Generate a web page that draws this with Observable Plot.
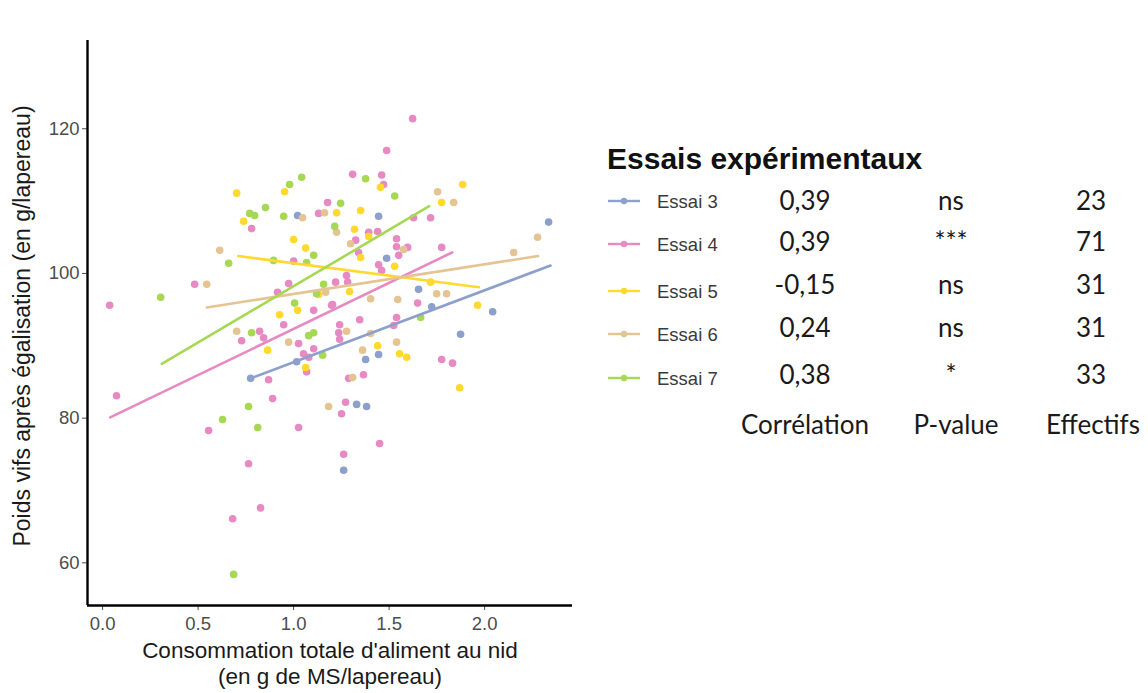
<!DOCTYPE html>
<html><head><meta charset="utf-8">
<script src="https://cdn.jsdelivr.net/npm/d3@7"></script>
<script src="https://cdn.jsdelivr.net/npm/@observablehq/plot@0.6"></script>
<style>
body{margin:0;background:#fff;width:1148px;height:693px;overflow:hidden;position:relative;font-family:"Liberation Sans",Arial,sans-serif}
#chart{position:absolute;left:0;top:0}
#legend{position:absolute;left:0;top:0}
</style></head><body>
<div id="chart"></div><div id="legend"></div>
<script>
// ---- data ----
const essais = ["Essai 3","Essai 4","Essai 5","Essai 6","Essai 7"];
const colors = ["#8DA0CB","#E78AC3","#FFD92F","#E5C494","#A6D854"];
const correlations = ["0,39","0,39","-0,15","0,24","0,38"];
const pValues = ["ns","***","ns","ns","*"];
const effectifs = ["23","71","31","31","33"];
const columnLabels = ["Corrélation","P-value","Effectifs"];
const legendTitle = "Essais expérimentaux";
const xTicks = [0,0.5,1,1.5,2];
const yTicks = [60,80,100,120];
const xTitle1 = "Consommation totale d'aliment au nid";
const xTitle2 = "(en g de MS/lapereau)";
const yTitle = "Poids vifs après égalisation (en g/lapereau)";

const essai3X = [2.335,1.445,1.021,1.487,1.654,1.723,1.874,1.445,1.377,1.330,1.382,1.262,2.042,0.775,1.016];
const essai3Y = [107.1,107.9,108.0,102.1,97.8,95.4,91.6,88.8,88.1,81.9,81.6,72.8,94.7,85.5,87.8];

const essai4X = [0.037,0.073,0.482,0.728,0.822,0.843,0.869,0.890,0.555,0.764,0.681,0.827,1.026,0.948,1.026,1.052,1.079,1.105,1.068,1.105,1.199,0.916,0.974,1.0,0.780,1.131,1.178,1.220,1.623,1.487,1.309,1.461,1.471,1.628,1.717,1.325,1.393,1.440,1.539,1.539,1.597,1.775,1.550,1.340,1.445,1.461,1.277,1.283,1.204,1.241,1.236,1.241,1.346,1.524,1.539,1.649,1.775,1.832,1.366,1.288,1.272,1.251,1.450,1.262];
const essai4Y = [95.6,83.1,98.5,90.7,92.0,91.1,85.3,82.7,78.3,73.7,66.1,67.6,78.7,92.9,90.3,88.9,88.4,89.6,86.4,94.9,95.6,97.4,98.6,101.7,106.2,108.3,109.8,98.8,121.4,117.0,113.7,113.6,112.3,107.7,107.7,104.6,105.7,105.8,104.8,103.7,103.6,103.6,102.5,102.9,101.2,100.4,99.7,98.8,95.7,92.9,91.8,90.9,93.6,92.8,93.9,95.9,88.1,87.6,86.0,85.5,82.2,80.6,76.5,75.0];

const essai5X = [0.702,0.953,0.738,1.0,1.063,1.225,1.131,1.885,1.455,1.775,1.351,1.319,1.393,1.351,1.529,1.717,1.293,0.927,1.021,0.864,1.063,1.963,1.440,1.555,1.592,1.869];
const essai5Y = [111.1,111.3,107.2,104.7,103.5,108.4,97.1,112.3,111.9,109.8,108.7,106.1,105.1,102.2,101.0,98.8,97.5,94.3,94.9,89.4,87.0,95.6,90.0,88.9,88.4,84.2];

const essai6X = [0.613,0.545,1.047,1.162,1.754,1.838,2.277,2.152,1.225,1.298,1.576,1.749,1.801,1.403,1.545,1.168,1.277,1.403,1.539,1.361,1.309,1.183,0.702,0.974];
const essai6Y = [103.2,98.5,107.7,108.4,111.3,109.8,105.0,102.9,105.7,104.1,103.3,97.2,97.2,96.5,96.4,97.4,92.0,91.7,90.5,89.4,85.6,81.6,92.0,90.5];

const essai7X = [1.042,0.979,0.853,0.770,0.796,0.948,0.660,0.895,1.105,1.068,1.157,0.304,1.246,1.215,1.377,1.529,1.120,0.780,0.764,0.628,0.812,1.005,1.079,1.105,1.152,1.665,0.686];
const essai7Y = [113.3,112.3,109.1,108.3,108.0,107.9,101.4,101.8,102.5,101.5,98.5,96.7,109.7,106.5,113.1,110.7,97.2,91.8,81.6,79.8,78.7,95.9,91.4,91.8,88.7,93.9,58.4];

// regression line ends
const fitStartX = [0.775,0.04,0.71,0.545,0.31];
const fitStartY = [85.5,80.1,102.4,95.3,87.5];
const fitEndX = [2.345,1.83,1.97,2.28,1.71];
const fitEndY = [101.1,102.9,98.1,102.4,109.3];

// ---- build tables ----
const seriesX = [essai3X,essai4X,essai5X,essai6X,essai7X];
const seriesY = [essai3Y,essai4Y,essai5Y,essai6Y,essai7Y];
const points = [];
seriesX.forEach((xs,i)=>xs.forEach((x,j)=>points.push({essai:essais[i],x,y:seriesY[i][j]})));
const fits = [];
essais.forEach((e,i)=>{fits.push({essai:e,x:fitStartX[i],y:fitStartY[i]});fits.push({essai:e,x:fitEndX[i],y:fitEndY[i]});});

const xMin=-0.079, xMax=2.46, yMin=54.1, yMax=132.2;
const chart = Plot.plot({
  width: 590, height: 693,
  marginLeft: 87, marginTop: 40, marginRight: 18, marginBottom: 88,
  x: {domain:[xMin,xMax]},
  y: {domain:[yMin,yMax]},
  color: {domain: essais, range: colors},
  style: {fontFamily:"Liberation Sans, Arial, sans-serif", background:"white", overflow:"visible"},
  marks: [
    Plot.axisX({ticks:xTicks, tickFormat:d=>d.toFixed(1), tickSize:5, tickPadding:6, fontSize:18.5, color:"#4d4d4d", label:null}),
    Plot.axisY({ticks:yTicks, tickSize:5, tickPadding:3, fontSize:18.5, color:"#4d4d4d", label:null}),
    Plot.dot(points, {x:"x", y:"y", fill:"essai", r:3.8}),
    Plot.line(fits, {x:"x", y:"y", z:"essai", stroke:"essai", strokeWidth:2.6}),
    Plot.ruleX([xMin], {stroke:"black", strokeWidth:2.4}),
    Plot.ruleY([yMin], {stroke:"black", strokeWidth:2.4}),
    Plot.text([xTitle1], {frameAnchor:"bottom", dy:52, fontSize:22.5, fill:"#1a1a1a"}),
    Plot.text([xTitle2], {frameAnchor:"bottom", dy:78, fontSize:22.5, fill:"#1a1a1a"}),
    Plot.text([yTitle], {frameAnchor:"left", textAnchor:"middle", rotate:-90, dx:-65, dy:3, fontSize:23, fill:"#1a1a1a"})
  ]
});
document.getElementById("chart").appendChild(chart);

// ---- legend / table ----
const legendRowY = [201,244,291,334,378];
const tableRowY = [201,242,285,328,375];
const colX = [805,951,1091];
const svg = d3.select("#legend").append("svg").attr("width",1148).attr("height",693);
svg.append("text").attr("x",607).attr("y",169).attr("font-family","Liberation Sans, Arial, sans-serif")
  .attr("font-weight","bold").attr("font-size",30).attr("fill","#111").text(legendTitle);
essais.forEach((e,i)=>{
  const y = legendRowY[i];
  svg.append("line").attr("x1",608).attr("x2",640).attr("y1",y).attr("y2",y).attr("stroke",colors[i]).attr("stroke-width",2.4);
  svg.append("circle").attr("cx",624).attr("cy",y).attr("r",3.2).attr("fill",colors[i]);
  svg.append("text").attr("x",657).attr("y",y).attr("dominant-baseline","central").attr("font-family","Liberation Sans, Arial, sans-serif")
    .attr("font-size",18.5).attr("fill","#3a3a3a").text(e);
  const ty = tableRowY[i]+9;
  [correlations[i],pValues[i],effectifs[i]].forEach((v,k)=>{
    svg.append("text").attr("x",colX[k]).attr("y",ty).attr("text-anchor","middle").attr("font-family","Lato, 'Open Sans', sans-serif")
      .attr("font-size",26).attr("fill","#1a1a1a").text(v);
  });
});
const footX = [805,956,1093];
columnLabels.forEach((c,k)=>{
  svg.append("text").attr("x",footX[k]).attr("y",434).attr("text-anchor","middle").attr("font-family","Lato, 'Open Sans', sans-serif")
    .attr("font-size",26).attr("fill","#1a1a1a").text(c);
});
</script>
</body></html>
